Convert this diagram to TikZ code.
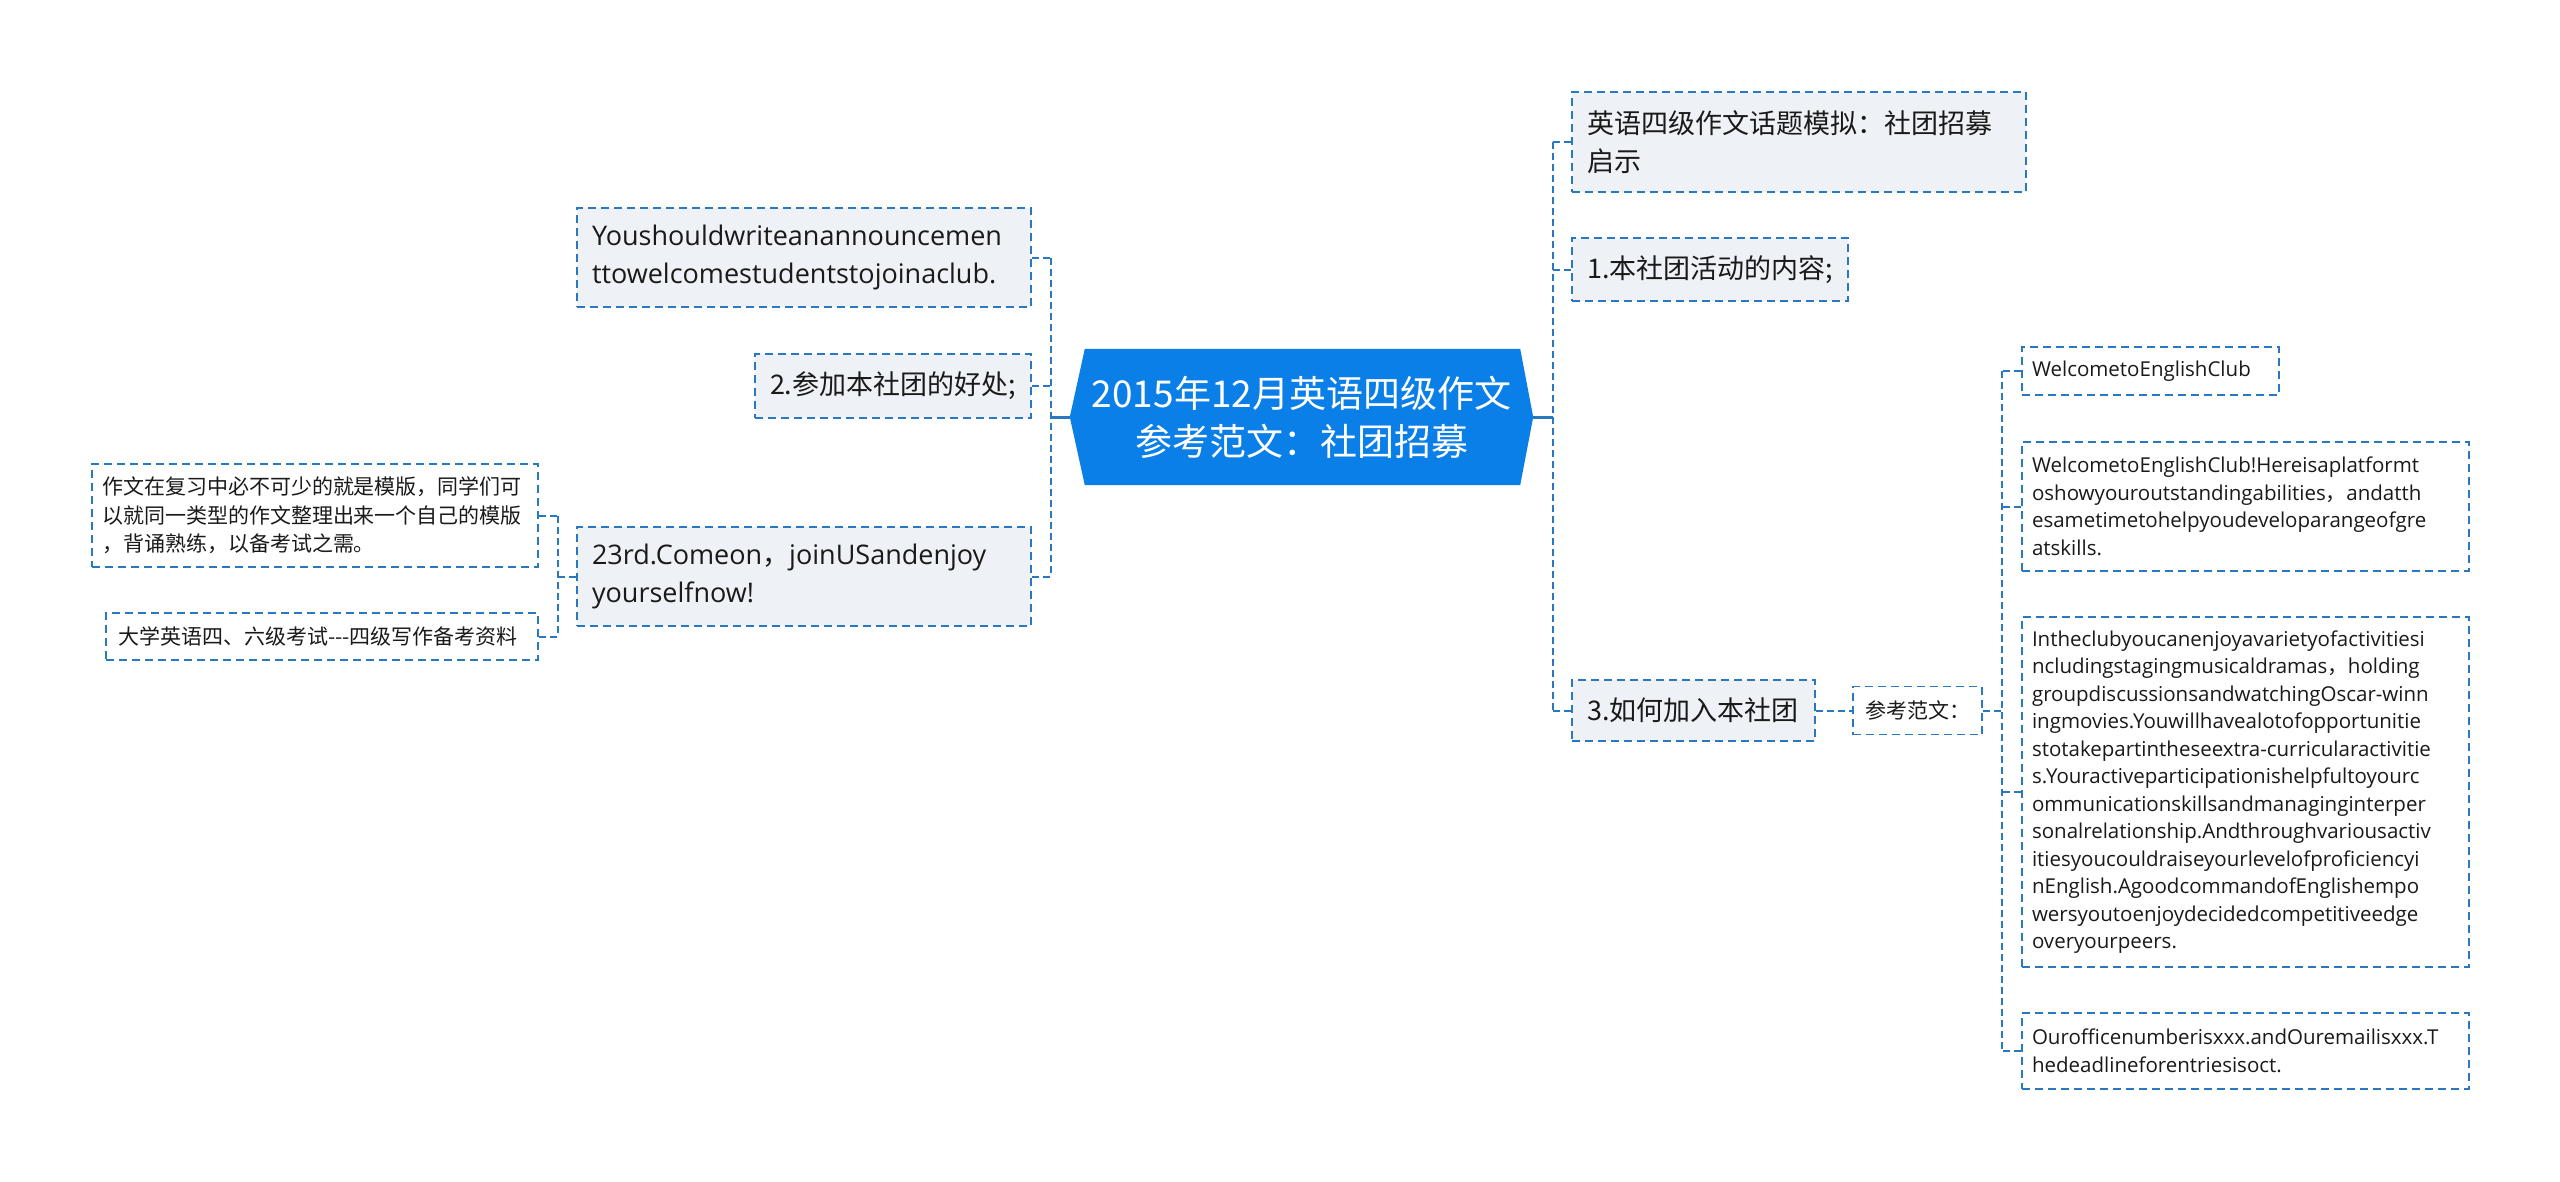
\documentclass[tikz,border=0pt]{standalone}
\usepackage{fontspec}
\newfontfamily\cjk{Noto Sans CJK SC}
\newfontfamily\latf{Open Sans}
\usetikzlibrary{backgrounds}
\definecolor{lineblue}{HTML}{2A78C0}
\definecolor{boxfill}{HTML}{EEF1F5}
\definecolor{hexblue}{HTML}{0B7FE8}
\definecolor{txt}{HTML}{1A1A1A}
\begin{document}
\begin{tikzpicture}[x=1pt,y=-1pt,
 conn/.style={draw=lineblue,line width=2pt,dash pattern=on 7pt off 4pt},
 trunk/.style={draw=lineblue,line width=3pt},
 box/.style={draw=lineblue,line width=1.8pt,dash pattern=on 8pt off 5pt,align=left,inner ysep=0pt,text=txt,anchor=center},
 lvone/.style={box,fill=boxfill,inner xsep=15pt},
 lvtwo/.style={box,fill=white,inner xsep=10pt},
 bigL/.style={font=\latf\fontsize{27}{38}\selectfont},
 bigC/.style={font=\cjk\fontsize{27}{38}\selectfont},
 smL/.style={font=\latf\fontsize{20.5}{27.5}\selectfont},
 smC/.style={font=\cjk\fontsize{21}{28.5}\selectfont},
 hexnode/.style={minimum width=463pt,minimum height=136pt,inner sep=0pt,align=center,text=white,font=\cjk\fontsize{37}{48}\selectfont}
]
\useasboundingbox (0,0) rectangle (2560,1181);

% central node
\node[hexnode] (C0) at (1301.5,417) {2015年12月英语四级作文\\参考范文：社团招募};
\begin{pgfonlayer}{background}
\fill[white] (0,0) rectangle (2560,1181);
\fill[hexblue] ([xshift=15pt]C0.north west) -- (C0.west) -- ([xshift=15pt]C0.south west)
  -- ([xshift=-13pt]C0.south east) -- (C0.east) -- ([xshift=-13pt]C0.north east) -- cycle;
\end{pgfonlayer}

% left side
\node[lvone,bigL,text width=424pt,minimum height=99pt] (A) at (804,257.5) {Youshouldwriteanannouncemen\\ttowelcomestudentstojoinaclub.};
\node[lvone,bigC,text width=246pt,minimum height=64pt] (B) at (893,386) {2.参加本社团的好处;};
\node[lvone,bigL,text width=424pt,minimum height=99pt] (C) at (804,576.5) {23rd.Comeon{\cjk ，}joinUSandenjoy\\yourselfnow!};
\node[lvtwo,smC,text width=426pt,minimum height=103pt] (D) at (315,515.5) {作文在复习中必不可少的就是模版，同学们可\\以就同一类型的作文整理出来一个自己的模版\\，背诵熟练，以备考试之需。};
\node[lvtwo,smC,inner xsep=12pt,text width=408pt,minimum height=47pt] (E) at (322,636.5) {大学英语四、六级考试---四级写作备考资料};

% right side
\node[lvone,bigC,text width=424pt,minimum height=100pt] (R0) at (1799,142) {英语四级作文话题模拟：社团招募\\启示};
\node[lvone,bigC,text width=246pt,minimum height=63pt] (R1) at (1710,269.5) {1.本社团活动的内容;};
\node[lvone,bigC,text width=213pt,minimum height=61pt] (R3) at (1693.5,710.5) {3.如何加入本社团};
\node[lvtwo,smC,inner xsep=12pt,text width=105pt,minimum height=48pt] (P) at (1917.5,710.5) {参考范文：};
\node[lvtwo,smL,text width=237pt,minimum height=48pt] (W1) at (2150.5,371) {WelcometoEnglishClub};
\node[lvtwo,smL,text width=427pt,minimum height=129pt] (W2) at (2245.5,506.5) {WelcometoEnglishClub!Hereisaplatformt\\oshowyouroutstandingabilities{\cjk ，}andatth\\esametimetohelpyoudeveloparangeofgre\\atskills.};
\node[lvtwo,smL,text width=427pt,minimum height=350pt] (W3) at (2245.5,792) {Intheclubyoucanenjoyavarietyofactivitiesi\\ncludingstagingmusicaldramas{\cjk ，}holding\\groupdiscussionsandwatchingOscar-winn\\ingmovies.Youwillhavealotofopportunitie\\stotakepartintheseextra-curricularactivitie\\s.Youractiveparticipationishelpfultoyourc\\ommunicationskillsandmanaginginterper\\sonalrelationship.Andthroughvariousactiv\\itiesyoucouldraiseyourlevelofproficiencyi\\nEnglish.AgoodcommandofEnglishempo\\wersyoutoenjoydecidedcompetitiveedge\\overyourpeers.};
\node[lvtwo,smL,text width=427pt,minimum height=76pt] (W4) at (2245.5,1051) {Ourofficenumberisxxx.andOuremailisxxx.T\\hedeadlineforentriesisoct.};

% connectors
\coordinate (LS) at (1051,417);
\coordinate (RS) at (1553,417);
\coordinate (S2) at (2002,710.5);
\coordinate (S3) at (558,576.5);
\draw[trunk] (C0.west) -- (LS);
\draw[trunk] (C0.east) -- (RS);

\draw[conn] (A.east -| LS) -- (C.east -| LS);
\draw[conn] (A.east) -- (A.east -| LS);
\draw[conn] (B.east) -- (B.east -| LS);
\draw[conn] (C.east) -- (C.east -| LS);

\draw[conn] (C.west) -- (S3);
\draw[conn] (D.east -| S3) -- (E.east -| S3);
\draw[conn] (D.east) -- (D.east -| S3);
\draw[conn] (E.east) -- (E.east -| S3);

\draw[conn] (R0.west -| RS) -- (R3.west -| RS);
\draw[conn] (R0.west) -- (R0.west -| RS);
\draw[conn] (R1.west) -- (R1.west -| RS);
\draw[conn] (R3.west) -- (R3.west -| RS);

\draw[conn] (R3.east) -- (P.west);
\draw[conn] (P.east) -- (S2);
\draw[conn] (W1.west -| S2) -- (W4.west -| S2);
\draw[conn] (W1.west) -- (W1.west -| S2);
\draw[conn] (W2.west) -- (W2.west -| S2);
\draw[conn] (W3.west) -- (W3.west -| S2);
\draw[conn] (W4.west) -- (W4.west -| S2);
\end{tikzpicture}
\end{document}
